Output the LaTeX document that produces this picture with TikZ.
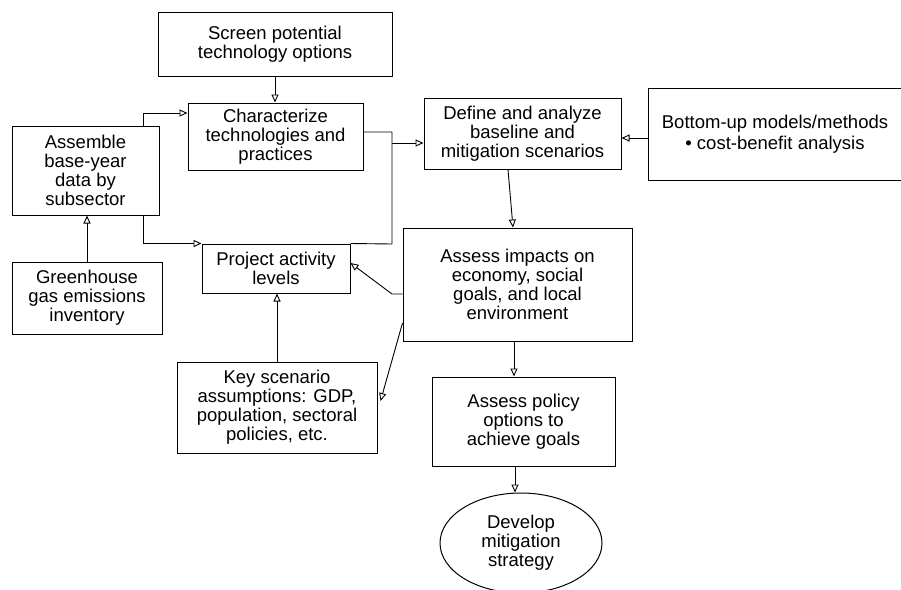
\documentclass[tikz,border=0pt]{standalone}
\usepackage{fontspec}
\setmainfont{Liberation Sans}
\usetikzlibrary{arrows.meta,shapes.geometric,calc}
\begin{document}
\begin{tikzpicture}[x=1pt,y=-1pt,
  box/.style={draw,line width=1pt,rectangle,inner sep=0pt,align=center,
    font=\fontsize{18.5}{19}\selectfont},
  oval/.style={draw,line width=1pt,ellipse,inner sep=0pt,align=center,
    font=\fontsize{18.5}{19}\selectfont},
  arr/.style={line width=0.9pt,-{Triangle[open,length=8pt,width=7pt]}},
  conn/.style={line width=0.9pt}]
\useasboundingbox (0,0) rectangle (901,589);

% boxes
\node[box,minimum width=234pt,minimum height=64pt] (screen) at (275,44)
  {Screen potential\\technology options};
\node[box,minimum width=175pt,minimum height=67pt] (charac) at (275.5,136.5)
  {Characterize\\technologies and\\practices};
\node[box,minimum width=147pt,minimum height=89pt] (assemble) at (85.5,170.5)
  {Assemble\\base-year\\data by\\subsector};
\node[box,minimum width=197pt,minimum height=71pt] (define) at (522.5,133.5)
  {Define and analyze\\baseline and\\mitigation scenarios};
\node[box,minimum width=254pt,minimum height=92pt] (bottomup) at (775,134)
  {Bottom-up models/methods\\[2pt]• cost-benefit analysis};
\node[box,minimum width=148pt,minimum height=49pt] (project) at (276,268.5)
  {Project activity\\levels};
\node[box,minimum width=150pt,minimum height=72pt] (ghg) at (87,298)
  {Greenhouse\\gas emissions\\inventory};
\node[box,minimum width=229pt,minimum height=113pt] (impacts) at (517.5,284.5)
  {Assess impacts on\\economy, social\\goals, and local\\environment};
\node[box,minimum width=200pt,minimum height=91pt] (key) at (277,407.5)
  {Key scenario\\assumptions: GDP,\\population, sectoral\\policies, etc.};
\node[box,minimum width=183pt,minimum height=89pt] (policy) at (523.5,421.5)
  {Assess policy\\options to\\achieve goals};
\node[oval,minimum width=162pt,minimum height=100pt] (develop) at (521,543)
  {Develop\\mitigation\\strategy};

% helper coordinates
\coordinate (trunktop) at (392,132);
\coordinate (trunkarr) at (392,143);
\coordinate (trunkbot) at (392,244);
\coordinate (bend) at (392,294);

% connectors
\draw[arr] (screen.south) -- (screen.south |- charac.north);
\draw[arr] ([xshift=57.5pt]assemble.north) |- ([yshift=23.5pt]charac.west);
\draw[arr] ([xshift=57.5pt]assemble.south) |- (project.north west);
\draw[conn] ([yshift=4.5pt]charac.east) -- (trunktop) -- (trunkbot) -- (project.north east);
\draw[arr] (trunkarr) -- (trunkarr -| define.west);
\draw[arr] ([yshift=-4pt]bottomup.west) -- ([yshift=-4pt]bottomup.west -| define.east);
\draw[arr] ([xshift=-14.5pt]define.south) -- ([xshift=-4.5pt]impacts.north);
\draw[arr] ([yshift=-9.5pt]impacts.west) -- (bend) -- ([yshift=5.5pt]project.east);
\draw[arr] ([yshift=-38.5pt]impacts.west) -- ([yshift=6.5pt,xshift=3pt]key.east);
\draw[arr] (ghg.north) -- (ghg.north |- assemble.south);
\draw[arr] (key.north) -- (key.north |- project.south);
\draw[arr] ([xshift=-3.5pt]impacts.south) -- ([xshift=-3.5pt]impacts.south |- policy.north);
\draw[arr] ([xshift=-8.5pt]policy.south) -- ([xshift=-8.5pt]policy.south |- develop.north);
\end{tikzpicture}
\end{document}
